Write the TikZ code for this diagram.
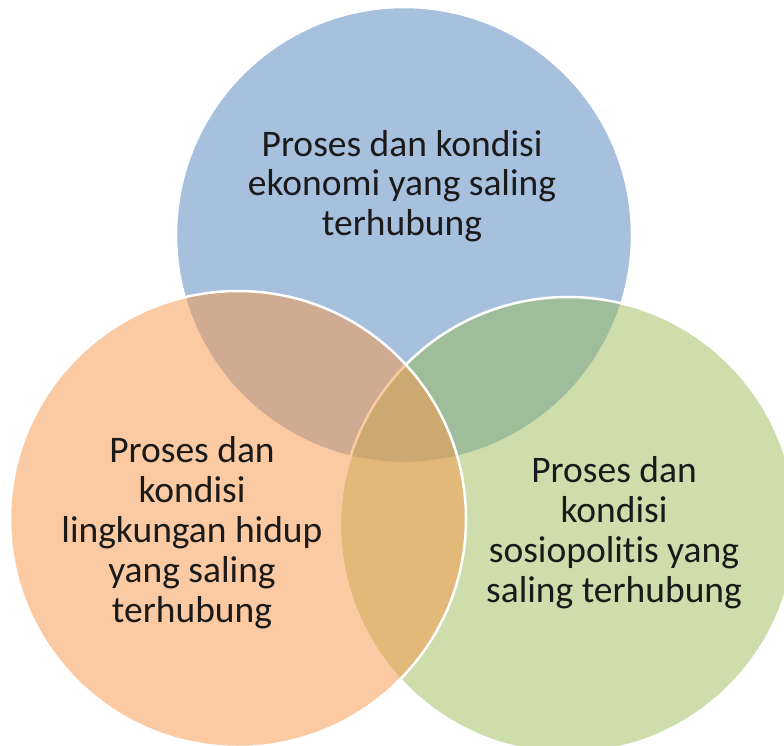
\documentclass[tikz,border=0pt]{standalone}
\usepackage{fontspec}
\setmainfont{Carlito}[Ligatures=NoCommon]
\definecolor{vennblue}{HTML}{4F81BD}
\definecolor{vennorange}{HTML}{F79646}
\definecolor{venngreen}{HTML}{9BBB59}
\definecolor{venntext}{HTML}{1A1A1A}
\begin{document}
\begin{tikzpicture}[x=1pt,y=-1pt,
  vennset/.style={draw=white, line width=2.5pt, fill opacity=0.5},
  venntxt/.style={align=center, inner sep=0pt, anchor=base, text=venntext,
    font=\fontsize{37.5}{40}\selectfont}]
  \useasboundingbox (0,0) rectangle (784,746);
  % three overlapping sets, drawn back to front
  \begin{scope}
    \clip (0,0) rectangle (784,746);
    \draw[vennset, fill=vennblue] (404,235) circle[radius=228];
    \draw[vennset, fill=venngreen] (568,525) circle[radius=228];
    \draw[vennset, fill=vennorange] (238,519) circle[radius=228];
  \end{scope}
  % labels (the base anchor sits on the last line)
  \node[venntxt] (eko) at (402,236) {Proses dan kondisi\\ekonomi yang saling\\terhubung};
  \node[venntxt] (ling) at (192,622) {Proses dan\\kondisi\\lingkungan hidup\\yang saling\\terhubung};
  \node[venntxt] (sosio) at (614,602) {Proses dan\\kondisi\\sosiopolitis yang\\saling terhubung};
\end{tikzpicture}
\end{document}
